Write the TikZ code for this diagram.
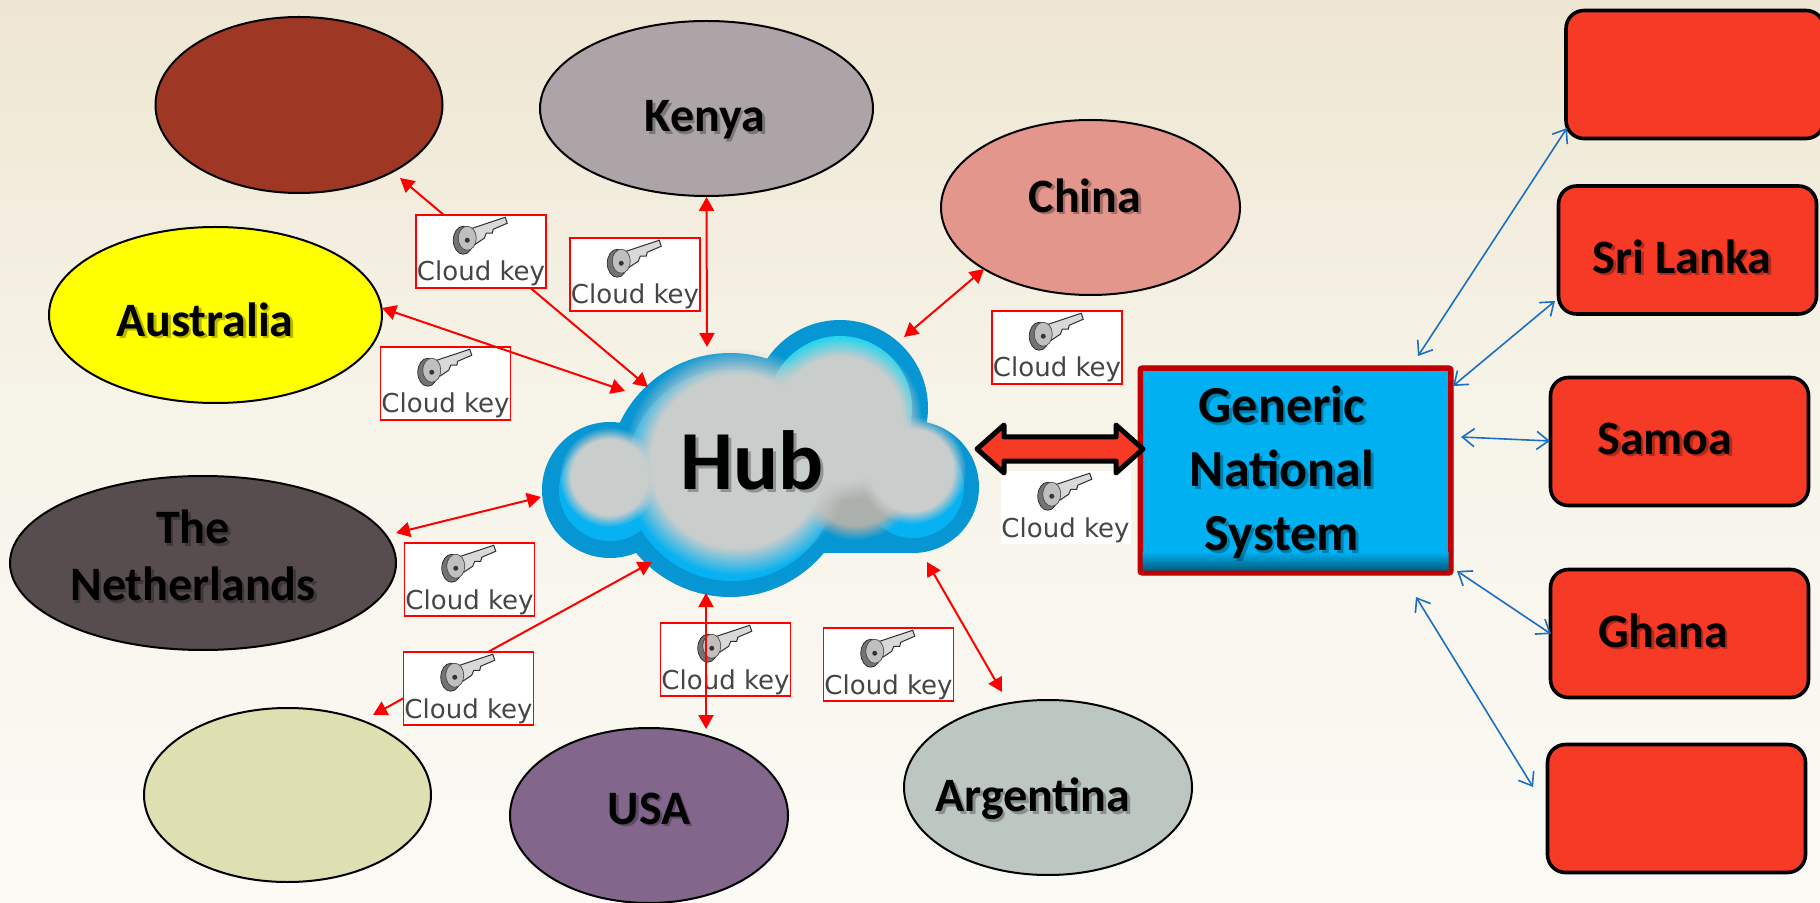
\documentclass[tikz,border=0pt]{standalone}
\usepackage{fontspec}
\setmainfont{Carlito}
\newfontfamily\keyfont{DejaVu Sans}
\usetikzlibrary{arrows.meta,shapes.geometric,fadings,backgrounds}
\definecolor{bgtop}{HTML}{EEE6D2}
\definecolor{bgmid}{HTML}{F6F3E8}
\definecolor{bgbot}{HTML}{FBFAF5}
\definecolor{boxred}{HTML}{F63A26}
\definecolor{gnsblue}{HTML}{00B0F0}
\definecolor{gnsdark}{HTML}{005A7C}
\definecolor{gnsedge}{HTML}{C00000}
\definecolor{cloudout}{HTML}{0696D3}
\definecolor{cloudin}{HTML}{06B2F2}
\definecolor{cloudcy}{HTML}{25D5EE}
\definecolor{cloudgr}{HTML}{C9CDCC}
\definecolor{cloudgb}{HTML}{ACB0AC}
\definecolor{arrowblue}{HTML}{1A6FC0}
\definecolor{keytxt}{HTML}{454545}
\pgfdeclareradialshading{softs}{\pgfpoint{0bp}{0bp}}{color(0bp)=(pgftransparent!0); color(19bp)=(pgftransparent!0); color(25bp)=(pgftransparent!100); color(50bp)=(pgftransparent!100)}
\pgfdeclarefading{softc}{\pgfuseshading{softs}}
\newsavebox\shbox
\newcommand\shtxt[1]{\sbox\shbox{#1}\leavevmode\rlap{\raisebox{-1.3pt}{\hspace{1.3pt}\pgfsetfillopacity{.28}\usebox\shbox\pgfsetfillopacity{1}}}\usebox\shbox}
\tikzset{
  ell/.style 2 args={ellipse,draw=black,line width=1pt,inner sep=0pt,minimum width=#1,minimum height=#2},
  lbl/.style={font=\fontsize{24}{28.5}\selectfont\bfseries,align=center,inner sep=0pt,text=black},
  rbox/.style={rectangle,rounded corners=9pt,draw=black,line width=1.8pt,fill=boxred,minimum width=129pt,minimum height=64pt,inner sep=0pt},
  keybox/.style={rectangle,fill=white,draw=red,line width=.75pt,minimum width=65pt,inner sep=0pt,text height=33pt,text depth=3.5pt,font=\keyfont\fontsize{13}{14}\selectfont,text=keytxt},
  keyplain/.style={keybox,draw=none},
  redarrow/.style={draw=red,line width=1pt,{Triangle[length=7pt,width=7.5pt]}-{Triangle[length=7pt,width=7.5pt]}},
  bluearrow/.style={draw=arrowblue,line width=.8pt,{Straight Barb[length=6pt,width=9pt]}-{Straight Barb[length=6pt,width=9pt]}},
  bub/.style={fill=#1,path fading=softc},
  keyicon/.pic={
    \begin{scope}[shift={(51,24)}]
    \draw[draw=black!85,fill=black!55,line width=.35pt] (-3,2) ellipse [x radius=10,y radius=14];
    \draw[draw=black!80,fill=black!15,line width=.5pt] (3,-9) -- (39,-21) -- (41,-15) -- (27,-9) -- (26,-5) -- (20,-5) -- (18,0) -- (9,6) -- cycle;
    \draw[draw=black!70,fill=black!25,line width=.35pt] (1,0) ellipse [x radius=9,y radius=12];
    \fill[black!80] (1,2) circle [radius=2.5];
    \end{scope}
  }
}
\begin{document}
\begin{tikzpicture}[x=0.5pt,y=-0.5pt]
\useasboundingbox (0,0) rectangle (1820,903);
\clip (0,0) rectangle (1820,903);
\shade[top color=bgtop,bottom color=bgmid] (0,0) rectangle (1820,400);
\shade[top color=bgmid,bottom color=bgbot] (0,400) rectangle (1820,903);
% ellipses
\node[ell={143.5pt}{88pt},fill={rgb,255:red,158;green,56;blue,37}] (brown) at (299,105) {};
\node[ell={166.5pt}{87.5pt},fill={rgb,255:red,173;green,164;blue,168}] (kenya) at (706.5,108.5) {};
\node[ell={149.5pt}{87.5pt},fill={rgb,255:red,227;green,150;blue,140}] (china) at (1090.5,207.5) {};
\node[ell={166.5pt}{88pt},fill={rgb,255:red,255;green,255;blue,0}] (australia) at (215.5,315) {};
\node[ell={193pt}{87pt},fill={rgb,255:red,88;green,77;blue,78}] (netherlands) at (203,563) {};
\node[ell={143.5pt}{87pt},fill={rgb,255:red,223;green,224;blue,178}] (pale) at (287.5,795) {};
\node[ell={139pt}{87.5pt},fill={rgb,255:red,130;green,102;blue,140}] (usa) at (649,815.5) {};
\node[ell={144pt}{87.5pt},fill={rgb,255:red,188;green,199;blue,193}] (argentina) at (1048,787.5) {};
% right boxes
\node[rbox] (box1) at (1695,74.5) {};
\node[rbox] (box2) at (1687.5,250) {};
\node[rbox] (box3) at (1679.5,441.5) {};
\node[rbox] (box4) at (1679.5,633.5) {};
\node[rbox] (box5) at (1676.5,808.5) {};
% cloud
\fill[cloudout] (610,490) circle [radius=68] (730,475) circle [radius=122] (840,408) circle [radius=88] (913,487) circle [radius=66];
\fill[cloudout] (730,480) rectangle (913,553);
\fill[cloudcy] (840,408) circle [radius=72];
\fill[cloudin] (610,490) circle [radius=51] (732,475) circle [radius=106] (913,487) circle [radius=51];
\fill[bub=cloudgb] (855,478) circle [radius=62];
\fill[bub=cloudgr] (840,419) circle [radius=82];
\fill[bub=cloudgr] (737,461) circle [radius=114];
\fill[bub=cloudgr] (609,477) circle [radius=50];
\fill[bub=cloudgr] (912,470) circle [radius=54];
\node[font=\fontsize{42}{50}\selectfont\bfseries,inner sep=0pt] (hub) at (752,462) {\shtxt{Hub}};
% GNS
\node[rectangle,draw=gnsedge,line width=2.5pt,rounded corners=1pt,minimum width=155pt,minimum height=102pt,inner sep=0pt,fill=gnsblue] (gns) at (1295.5,470.5) {};
\shade[top color=gnsblue,bottom color=gnsdark] (1142,552) rectangle (1449,571);
\draw[gnsedge,line width=2.5pt,rounded corners=1pt] (1140,368) rectangle (1451,573);
\node[lbl,font=\fontsize{26}{32}\selectfont\bfseries] (gnstext) at (1282,474) {\shtxt{Generic}\\\shtxt{National}\\\shtxt{System}};
% labels
\node[lbl] (kenyaT) at (705,121) {\shtxt{Kenya}};
\node[lbl] (chinaT) at (1085,197) {\shtxt{China}};
\node[lbl] (ausT) at (205,321) {\shtxt{Australia}};
\node[lbl] (nethT) at (193,557) {\shtxt{The}\\\shtxt{Netherlands}};
\node[lbl] (usaT) at (649,810) {\shtxt{USA}};
\node[lbl] (argT) at (1033,800) {\shtxt{Argentina}};
\node[lbl] (sriT) at (1682,258) {\shtxt{Sri Lanka}};
\node[lbl] (samT) at (1665,440) {\shtxt{Samoa}};
\node[lbl] (ghaT) at (1663,632) {\shtxt{Ghana}};
% hub-side ends
\coordinate (hKenya) at (707,347);
\coordinate (hBrown) at (648,387);
\coordinate (hAus) at (625,391);
\coordinate (hChina) at (904,337);
\coordinate (hNeth) at (541,497);
\coordinate (hPale) at (652,562);
\coordinate (hUsa) at (706,593);
\coordinate (hArg) at (927,562);
\coordinate (oBrown) at (400,178);
\coordinate (oAus) at (382,308);
\coordinate (oChina) at (984,269);
\coordinate (oNeth) at (396,533);
\coordinate (oPale) at (373,715);
\coordinate (oUsa) at (706,729);
\coordinate (oArg) at (1002,692);
% red connectors under the key boxes
\draw[redarrow] (kenya.south) -- (hKenya);
\draw[redarrow] (oBrown) -- (hBrown);
\draw[redarrow] (oChina) -- (hChina);
\draw[redarrow] (oNeth) -- (hNeth);
\draw[redarrow] (oPale) -- (hPale);
\draw[redarrow] (oArg) -- (hArg);
% key boxes
\node[keybox] (k1) at (481,251.5) {Cloud key};
\node[keybox] (k2) at (635,274.5) {Cloud key};
\node[keybox] (k3) at (445.5,383.5) {Cloud key};
\node[keybox] (k4) at (1057,347.5) {Cloud key};
\node[keybox] (k5) at (469.5,579.5) {Cloud key};
\node[keybox] (k6) at (468.5,688.5) {Cloud key};
\node[keybox] (k7) at (725.5,659.5) {Cloud key};
\node[keybox] (k8) at (888.5,664.5) {Cloud key};
\node[keyplain] (k9) at (1065.5,507.5) {Cloud key};
\foreach \k in {k1,k2,k3,k4,k5,k6,k7,k8,k9} \path (\k.north west) pic {keyicon};
% red connectors over the key boxes
\draw[redarrow] (oAus) -- (hAus);
\draw[redarrow] (oUsa) -- (hUsa);
% big arrow
\coordinate (bigL) at (977,449);
\coordinate (bigR) at (1143,449);
\draw[black,line width=2.5pt,fill=boxred,line join=round] (bigL) -- (1004,425) -- (1004,437) -- (1116,437) -- (1116,425) -- (bigR) -- (1116,473) -- (1116,461) -- (1004,461) -- (1004,473) -- cycle;
% blue connectors
\coordinate (g1) at (1418,356);
\coordinate (g2) at (1453,386);
\coordinate (g3) at (1461,437);
\coordinate (g4) at (1457,571);
\coordinate (g5) at (1416,597);
\coordinate (b1) at (1567,128);
\coordinate (b2) at (1555,301);
\coordinate (b3) at (1550,441);
\coordinate (b4) at (1551,634);
\coordinate (b5) at (1533,787);
\draw[bluearrow] (g1) -- (b1);
\draw[bluearrow] (g2) -- (b2);
\draw[bluearrow] (g3) -- (b3);
\draw[bluearrow] (g4) -- (b4);
\draw[bluearrow] (g5) -- (b5);
\end{tikzpicture}
\end{document}
